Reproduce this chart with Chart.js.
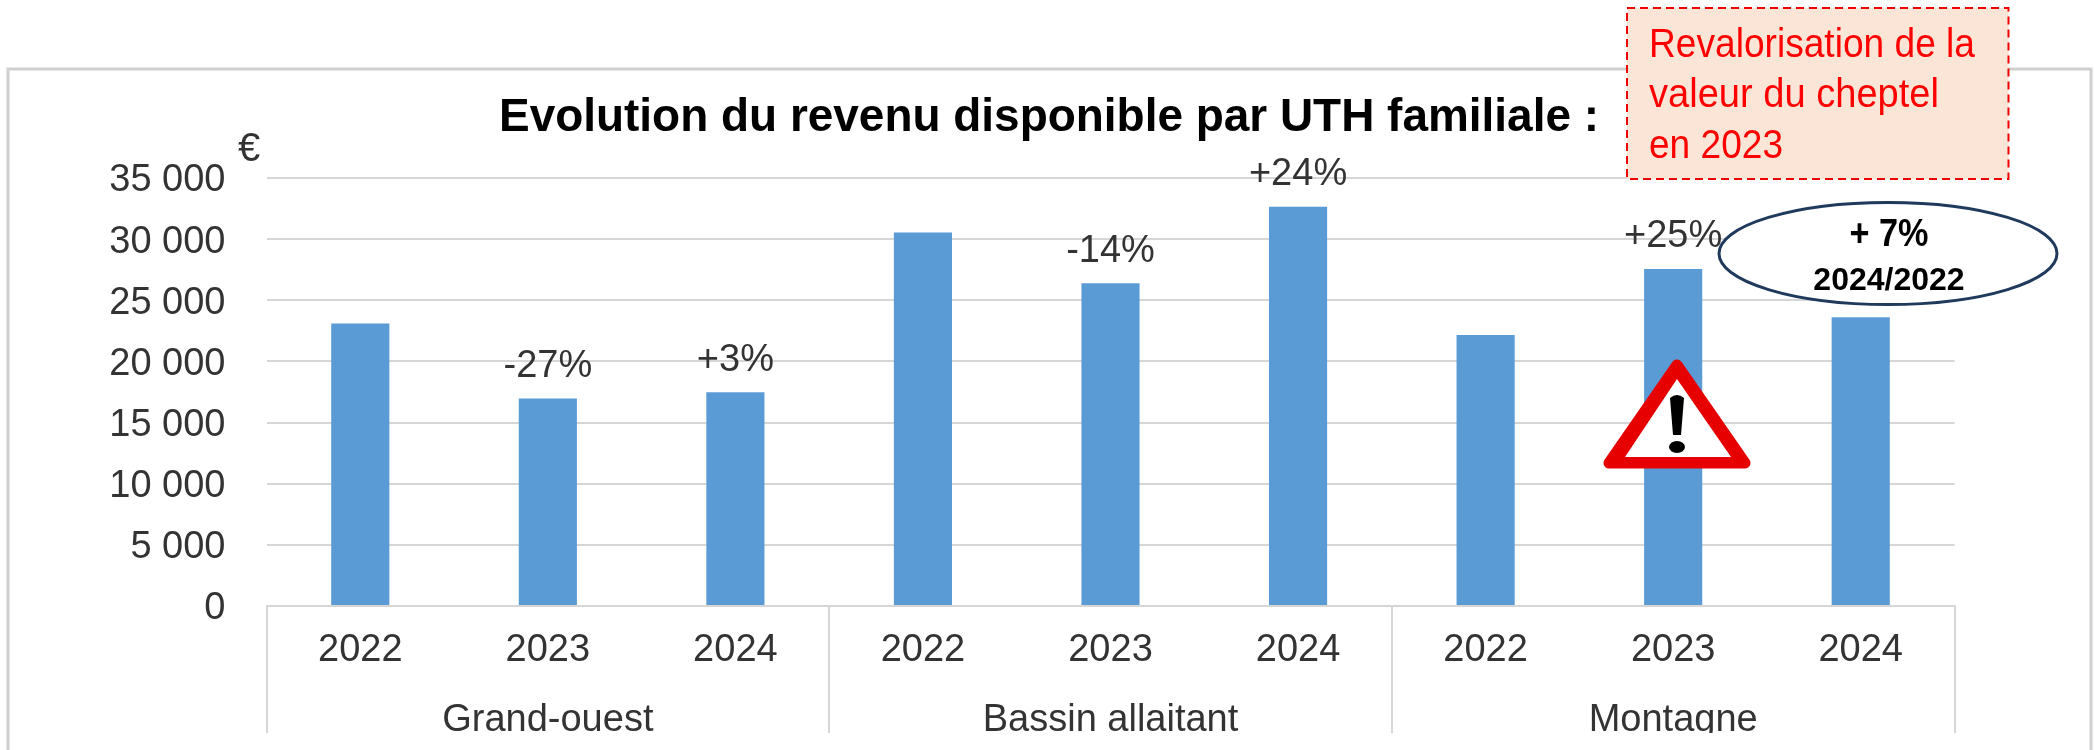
<!DOCTYPE html>
<html lang="fr">
<head>
<meta charset="utf-8">
<title>Evolution du revenu disponible par UTH familiale</title>
<script src="https://cdn.jsdelivr.net/npm/chart.js@4"></script>
<style>html,body{margin:0;padding:0;background:#fff}canvas{display:block}</style>
</head>
<body>
<canvas id="c" width="2094" height="750"></canvas>
<script>
const years = ['2022','2023','2024','2022','2023','2024','2022','2023','2024'];
const groups = ['Grand-ouest','Bassin allaitant','Montagne'];
const revenu = [23110,16960,17470,30540,26390,32650,22160,27560,23620];
const evolution = [null,'-27%','+3%',null,'-14%','+24%',null,'+25%',null];
const yTickLabels = ['0','5 000','10 000','15 000','20 000','25 000','30 000','35 000'];
const chartTitle = 'Evolution du revenu disponible par UTH familiale :';
const noteLines = ['Revalorisation de la','valeur du cheptel','en 2023'];
const ellipseLines = ['+ 7%','2024/2022'];

const FONT = '"Liberation Sans", Arial, sans-serif';
const TXT = '#333333';
const GRID = '#d6d6d6';

function text(ctx, s, x, y, font, color, align, maxW){
  ctx.font = font; ctx.fillStyle = color; ctx.textAlign = align; ctx.textBaseline = 'middle';
  if (maxW) ctx.fillText(s, x, y, maxW); else ctx.fillText(s, x, y);
}

const overlay = {
  id: 'overlay',
  afterDatasetsDraw(chart){
    const ctx = chart.ctx;
    ctx.save();
    // percentage labels, anchored to the bars
    const bars = chart.getDatasetMeta(0).data;
    evolution.forEach((s, i) => {
      if (s) text(ctx, s, bars[i].x, bars[i].y - 32, '38px ' + FONT, TXT, 'center');
    });
    // frame
    ctx.strokeStyle = '#d0d0d0'; ctx.lineWidth = 3;
    ctx.beginPath(); ctx.moveTo(8, 750); ctx.lineTo(8, 69); ctx.lineTo(2091, 69); ctx.lineTo(2091, 750); ctx.stroke();
    // clipped bottom of the picture
    ctx.fillStyle = '#fff'; ctx.fillRect(10, 733, 2079, 17);
    // title and unit
    text(ctx, chartTitle, 1049, 118, 'bold 46px ' + FONT, '#000', 'center', 1100);
    text(ctx, '€', 249, 150, '40px ' + FONT, TXT, 'center');
    // red note
    ctx.fillStyle = '#fbe5d6'; ctx.fillRect(1627, 8, 381.5, 171);
    ctx.strokeStyle = '#f00000'; ctx.lineWidth = 2; ctx.setLineDash([8, 5]);
    ctx.strokeRect(1627, 8, 381.5, 171); ctx.setLineDash([]);
    const noteW = [326, 290, 134], noteY = [46, 96, 147];
    noteLines.forEach((s, i) => text(ctx, s, 1649, noteY[i], '40px ' + FONT, '#ff0000', 'left', noteW[i]));
    // ellipse
    ctx.fillStyle = '#fff'; ctx.strokeStyle = '#1f3a5c'; ctx.lineWidth = 3;
    ctx.beginPath(); ctx.ellipse(1888, 253.5, 169, 51, 0, 0, Math.PI * 2); ctx.fill(); ctx.stroke();
    text(ctx, ellipseLines[0], 1889, 235.5, 'bold 38px ' + FONT, '#000', 'center', 79);
    text(ctx, ellipseLines[1], 1889, 281, 'bold 32px ' + FONT, '#000', 'center', 157);
    // warning sign
    ctx.lineJoin = 'round'; ctx.strokeStyle = '#e60000'; ctx.lineWidth = 11;
    ctx.fillStyle = '#e60000';
    ctx.beginPath(); ctx.moveTo(1677, 365); ctx.lineTo(1745, 463); ctx.lineTo(1609, 463); ctx.closePath(); ctx.stroke(); ctx.fill();
    ctx.fillStyle = '#fff';
    ctx.beginPath(); ctx.moveTo(1677, 379); ctx.lineTo(1731, 457); ctx.lineTo(1625, 457); ctx.closePath(); ctx.fill();
    ctx.fillStyle = '#000';
    ctx.beginPath(); ctx.moveTo(1670, 398); ctx.quadraticCurveTo(1677, 392, 1684, 398);
    ctx.lineTo(1681, 435); ctx.lineTo(1673, 435); ctx.closePath(); ctx.fill();
    ctx.beginPath(); ctx.ellipse(1677, 447, 8, 6, 0, 0, Math.PI * 2); ctx.fill();
    ctx.restore();
  }
};

new Chart(document.getElementById('c'), {
  type: 'bar',
  data: {
    labels: years,
    datasets: [{ data: revenu, backgroundColor: '#5b9bd5', barPercentage: 0.31, categoryPercentage: 1 }]
  },
  plugins: [overlay],
  options: {
    responsive: false,
    animation: false,
    layout: { padding: { top: 178, right: 139.5, left: 0, bottom: 0 } },
    plugins: { legend: { display: false }, title: { display: false }, tooltip: { enabled: false } },
    scales: {
      y: {
        min: 0, max: 35000,
        afterFit(s){ s.width = 266.5; },
        border: { display: false },
        grid: { color: GRID, lineWidth: 2, drawTicks: false },
        ticks: { stepSize: 5000, padding: 41, labelOffset: 3, color: TXT, font: { family: FONT, size: 38 },
                 callback: (v, i) => yTickLabels[i] }
      },
      x: {
        type: 'category', weight: 0, offset: true,
        afterFit(s){ s.height = 72; },
        border: { color: GRID, width: 2 },
        grid: { offset: true, drawOnChartArea: false, drawTicks: true, tickLength: 127, lineWidth: 2,
                tickColor: c => (c.index === undefined || c.index % 3 === 0) ? GRID : 'rgba(0,0,0,0)' },
        ticks: { padding: -105, color: TXT, maxRotation: 0, autoSkip: false, font: { family: FONT, size: 38 } }
      },
      x2: {
        type: 'category', position: 'bottom', weight: 1, offset: true, labels: groups,
        afterFit(s){ s.height = 72; },
        border: { display: false },
        grid: { display: false },
        ticks: { padding: 12, color: TXT, maxRotation: 0, font: { family: FONT, size: 38 } }
      }
    }
  }
});
</script>
</body>
</html>
